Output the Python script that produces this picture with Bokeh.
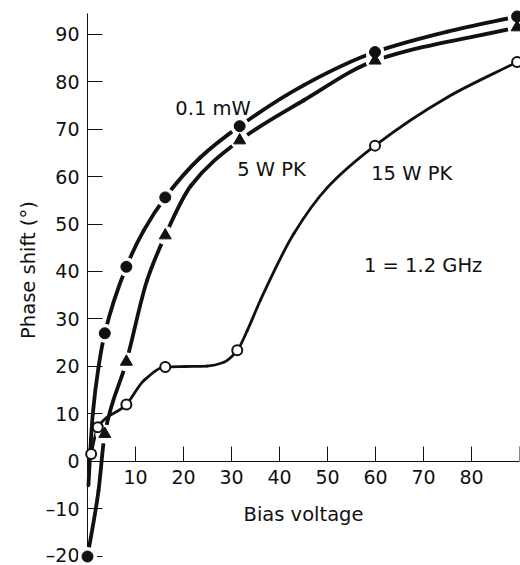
import numpy as np
from bokeh.plotting import figure
from bokeh.models import Range1d, FixedTicker, Label
from bokeh.core.properties import value
from bokeh.embed import file_html
from bokeh.resources import INLINE

# ---- data ----
# marker points
mw01_x = [0.0, 3.6, 8.1, 16.2, 31.7, 59.9, 89.5]
mw01_y = [-20.0, 27.0, 41.0, 55.6, 70.6, 86.2, 93.7]
w5_x = [3.6, 8.1, 16.2, 31.7, 59.9, 89.5]
w5_y = [5.8, 21.0, 47.6, 67.6, 84.4, 91.4]
w15_x = [0.76, 2.15, 8.1, 16.2, 31.2, 59.9, 89.5]
w15_y = [1.6, 7.2, 12.0, 19.9, 23.4, 66.5, 84.1]

# curve paths
mw01_path_x = [0.2, 0.55, 1.1, 2.3, 3.6, 8.1, 11.7, 16.2, 23.5, 31.7, 45.0, 59.9, 75.0, 89.5]
mw01_path_y = [-5.0, 1.7, 10.0, 19.9, 27.0, 41.0, 48.6, 55.6, 64.0, 70.6, 79.2, 86.2, 90.5, 93.7]
w5_path_x = [0.0, 2.3, 3.6, 8.1, 12.4, 16.2, 21.5, 31.7, 45.0, 59.9, 89.5]
w5_path_y = [-20.0, -6.1, 5.8, 21.0, 38.1, 47.6, 58.0, 67.6, 76.0, 84.4, 91.4]
w15_path_x = [0.76, 2.15, 8.1, 11.7, 16.2, 20.5, 24.9, 28.4, 31.2, 33.3, 36.0, 43.0, 50.0, 59.9, 75.0, 89.5]
w15_path_y = [1.6, 7.2, 12.0, 17.0, 19.9, 20.0, 20.1, 20.9, 23.4, 27.6, 33.9, 48.0, 57.7, 66.5, 76.7, 84.1]

# axis ticks and labels
x_ticks = [10, 20, 30, 40, 50, 60, 70, 80, 90]
x_tick_labels = ["10", "20", "30", "40", "50", "60", "70", "80", ""]
y_ticks = [-20, -10, 0, 10, 20, 30, 40, 50, 60, 70, 80, 90]
y_tick_labels = ["\u201320", "\u201310", "0", "10", "20", "30", "40", "50", "60", "70", "80", "90"]

x_title = "Bias voltage"
y_title = "Phase shift (\u00b0)"
notes = ["0.1 mW", "5 W PK", "15 W PK", "1 = 1.2 GHz"]


def bezier_segments(xs, ys):
    x = np.asarray(xs, float)
    y = np.asarray(ys, float)
    h = np.diff(x)
    d = np.diff(y) / h
    n = len(x)
    m = np.zeros(n)
    m[0] = d[0]
    m[-1] = d[-1]
    for k in range(1, n - 1):
        if d[k - 1] * d[k] <= 0:
            m[k] = 0.0
        else:
            w1 = 2 * h[k] + h[k - 1]
            w2 = h[k] + 2 * h[k - 1]
            m[k] = (w1 + w2) / (w1 / d[k - 1] + w2 / d[k])
    return dict(x0=x[:-1], y0=y[:-1], x1=x[1:], y1=y[1:],
                cx0=x[:-1] + h / 3, cy0=y[:-1] + m[:-1] * h / 3,
                cx1=x[1:] - h / 3, cy1=y[1:] - m[1:] * h / 3)


FONT = "DejaVu Sans"
INK = "#111111"

p = figure(width=520, height=565, x_range=Range1d(0, 90), y_range=Range1d(-21.895, 94.316),
           output_backend="svg", toolbar_location=None,
           min_border_left=87, min_border_right=1, min_border_top=13, min_border_bottom=0)
p.grid.visible = False
p.outline_line_color = None
p.background_fill_color = "white"

for ax in (p.xaxis[0], p.yaxis[0]):
    ax.axis_line_color = INK
    ax.axis_line_width = 1
    ax.major_tick_line_color = INK
    ax.major_tick_line_width = 1
    ax.major_tick_in = 15
    ax.major_tick_out = 0
    ax.minor_tick_line_color = None
    ax.major_label_text_font = FONT
    ax.major_label_text_font_size = "19px"
    ax.major_label_text_color = INK

xa = p.xaxis[0]
xa.fixed_location = 0
xa.ticker = FixedTicker(ticks=x_ticks)
xa.major_label_overrides = {t: s for t, s in zip(x_ticks, x_tick_labels)}
xa.major_label_standoff = 9

ya = p.yaxis[0]
ya.ticker = FixedTicker(ticks=y_ticks)
ya.major_label_overrides = {t: s for t, s in zip(y_ticks, y_tick_labels)}
ya.major_label_standoff = 8

renderers = []
renderers.append(p.bezier(line_color=INK, line_width=2.8, line_cap="round",
                          **bezier_segments(w15_path_x, w15_path_y)))
renderers.append(p.bezier(line_color=INK, line_width=3.8, line_cap="round",
                          **bezier_segments(mw01_path_x, mw01_path_y)))
renderers.append(p.bezier(line_color=INK, line_width=3.8, line_cap="round",
                          **bezier_segments(w5_path_x, w5_path_y)))
# white halos that break the lines around the solid markers
renderers.append(p.scatter(mw01_x, mw01_y, marker="circle", size=19, fill_color="white", line_color=None))
renderers.append(p.scatter(w5_x, w5_y, marker="circle", size=19, fill_color="white", line_color=None))
renderers.append(p.scatter(mw01_x, mw01_y, marker="circle", size=11, fill_color=INK, line_color=INK))
renderers.append(p.scatter(w5_x, w5_y, marker="triangle", size=12, fill_color=INK, line_color=INK))
renderers.append(p.scatter(w15_x, w15_y, marker="circle", size=10, fill_color="white",
                           line_color=INK, line_width=2))
# y-axis title as rotated text (not clipped)
renderers.append(p.text(x=[-12.29], y=[40.3], text=[y_title], angle=np.pi / 2,
                        text_font=value(FONT), text_font_size="19.5px", text_color=INK,
                        text_align="center", text_baseline="alphabetic"))
for r in renderers:
    r.level = "overlay"

note_pos = [(18.3, 74.3), (31.2, 61.4), (59.1, 60.7), (57.6, 41.3)]
for txt, (lx, ly) in zip(notes, note_pos):
    p.add_layout(Label(x=lx, y=ly, text=txt, text_font=FONT, text_font_size="19.5px",
                       text_color=INK, text_align="left", text_baseline="alphabetic"))

p.add_layout(Label(x=45, y=0, y_offset=-53, text=x_title, text_font=FONT, text_font_size="19.5px",
                   text_color=INK, text_align="center", text_baseline="alphabetic"))

open("out.html", "w").write(file_html(p, INLINE))
